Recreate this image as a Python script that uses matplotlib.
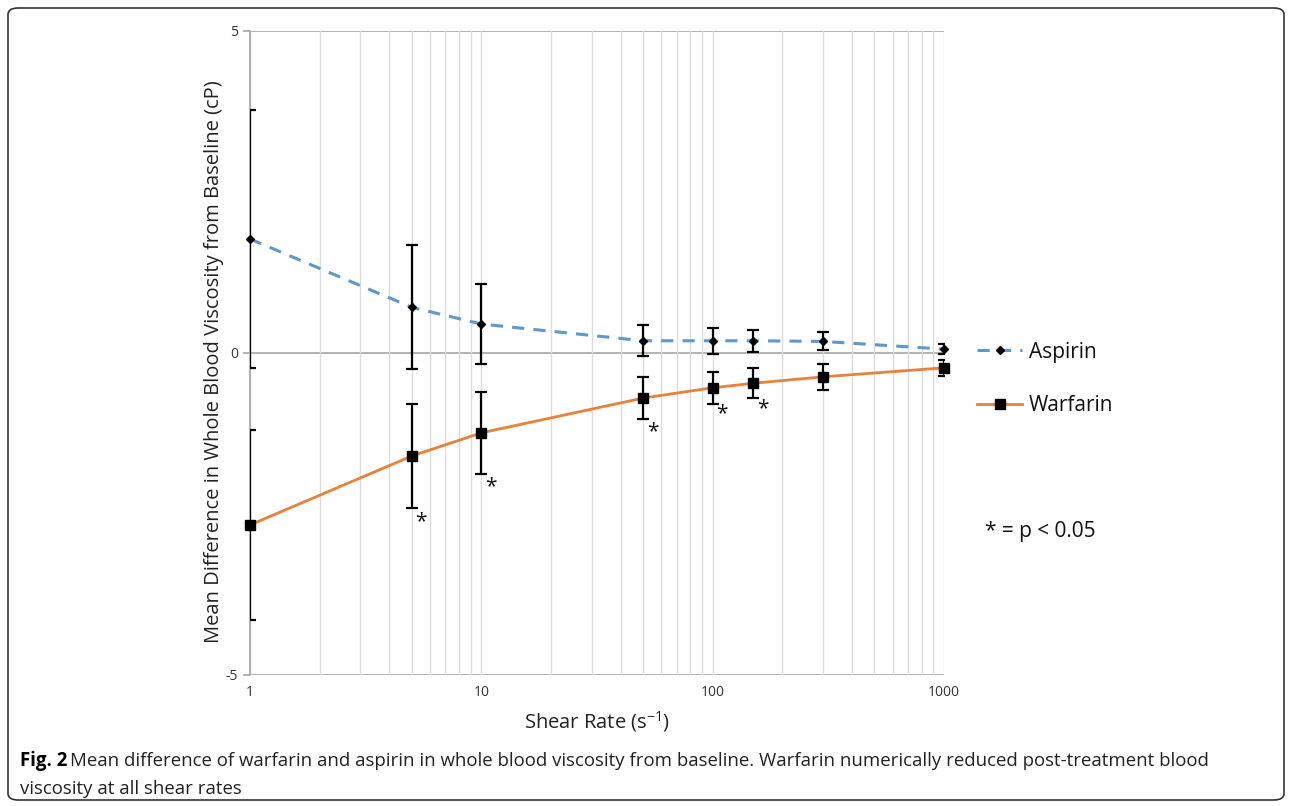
import matplotlib
matplotlib.use("Agg")
import matplotlib.pyplot as plt
from matplotlib.patches import FancyBboxPatch
from matplotlib.ticker import LogLocator, FixedLocator, NullFormatter

shear_rates = [1, 5, 10, 50, 100, 150, 300, 1000]
aspirin_mean = [1.77, 0.71, 0.45, 0.19, 0.19, 0.19, 0.18, 0.06]
aspirin_err = [2.0, 0.96, 0.62, 0.24, 0.2, 0.17, 0.14, 0.08]
warfarin_mean = [-2.67, -1.60, -1.24, -0.70, -0.54, -0.47, -0.37, -0.23]
warfarin_err = [1.47, 0.81, 0.64, 0.32, 0.25, 0.23, 0.2, 0.12]
# significance markers (x, y)
star_x = [5.5, 11, 55, 110, 165]
star_y = [-2.62, -2.07, -1.22, -0.95, -0.86]

plt.rcParams["font.family"] = ["Open Sans", "DejaVu Sans"]
plt.rcParams["mathtext.fontset"] = "custom"
plt.rcParams["mathtext.rm"] = "Open Sans"
plt.rcParams["mathtext.default"] = "rm"

fig = plt.figure(figsize=(12.92, 8.06), dpi=100)
ax = fig.add_axes([250 / 1292, 1 - 675 / 806, 694 / 1292, 644 / 806])

grid_color = "#dcdcdc"
axis_color = "#a6a6a6"

ax.set_xscale("log")
ax.set_xlim(1, 1000)
ax.set_ylim(-5, 5)

ax.xaxis.set_major_locator(FixedLocator([1, 10, 100, 1000]))
ax.xaxis.set_minor_locator(LogLocator(base=10, subs=range(2, 10)))
ax.xaxis.set_minor_formatter(NullFormatter())
ax.set_xticklabels(["1", "10", "100", "1000"])
ax.set_yticks([-5, 0, 5])
ax.set_yticklabels(["-5", "0", "5"])

ax.grid(True, which="both", axis="x", color=grid_color, linewidth=1)
ax.axhline(0, color=axis_color, linewidth=1.2, zorder=1)
ax.axhline(5, color=axis_color, linewidth=1.2, zorder=1)
ax.axhline(-5, color=axis_color, linewidth=1.2, zorder=1)

for side in ["top", "right", "bottom"]:
    ax.spines[side].set_visible(False)
ax.spines["left"].set_color(axis_color)
ax.spines["left"].set_linewidth(1.2)

ax.tick_params(axis="x", which="both", length=0, labelsize=10, pad=7,
               labelcolor="#333333")
ax.tick_params(axis="y", length=5, width=1.2, color=axis_color, labelsize=10,
               labelcolor="#333333")

ax.errorbar(shear_rates, aspirin_mean, yerr=aspirin_err, fmt="none",
            ecolor="black", elinewidth=1.6, capsize=4, capthick=1.6, zorder=3)
ax.errorbar(shear_rates, warfarin_mean, yerr=warfarin_err, fmt="none",
            ecolor="black", elinewidth=1.6, capsize=4, capthick=1.6, zorder=3)

(asp_line,) = ax.plot(shear_rates, aspirin_mean, linestyle=(0, (4, 3)),
                      color="#5f98cc", linewidth=2.2, marker="D",
                      markersize=4, markerfacecolor="black",
                      markeredgecolor="black", label="Aspirin", zorder=4,
                      clip_on=False)
(war_line,) = ax.plot(shear_rates, warfarin_mean, linestyle="-",
                      color="#e8813a", linewidth=2.0, marker="s",
                      markersize=6.5, markerfacecolor="black",
                      markeredgecolor="black", label="Warfarin", zorder=4,
                      clip_on=False)

for sx, sy in zip(star_x, star_y):
    ax.text(sx, sy, "*", fontsize=15, ha="center", va="center", color="#111111")

ax.set_ylabel("Mean Difference in Whole Blood Viscosity from Baseline (cP)",
              fontsize=14.5, color="#222222")
ax.yaxis.set_label_coords(-0.037, 0.487)
ax.set_xlabel("Shear Rate (s$^{-1}$)", fontsize=14.5, color="#222222",
              labelpad=7)

leg = ax.legend(handles=[asp_line, war_line], loc="center left",
                bbox_to_anchor=(1.02, 0.46), frameon=False, fontsize=15,
                handlelength=2.2, handletextpad=0.3, labelspacing=1.55)
for t in leg.get_texts():
    t.set_color("#111111")

fig.text(985 / 1292, 1 - 532 / 806, "* = p < 0.05", fontsize=15,
         ha="left", va="center", color="#111111")

cap_size = 13.4
fig.text(20 / 1292, 1 - 761 / 806, "Fig. 2", fontsize=cap_size,
         fontweight="bold", ha="left", va="center")
fig.text(70 / 1292, 1 - 761 / 806,
         "Mean difference of warfarin and aspirin in whole blood viscosity "
         "from baseline. Warfarin numerically reduced post-treatment blood",
         fontsize=cap_size, ha="left", va="center", color="#222222")
fig.text(20 / 1292, 1 - 789 / 806, "viscosity at all shear rates",
         fontsize=cap_size, ha="left", va="center", color="#222222")

frame = FancyBboxPatch((8 / 1292, 6 / 806), 1276 / 1292, 792 / 806,
                       boxstyle="round,pad=0,rounding_size=0.008",
                       transform=fig.transFigure, fill=False,
                       edgecolor="#333333", linewidth=1.2)
fig.patches.append(frame)

fig.savefig("out.png", dpi=100)
